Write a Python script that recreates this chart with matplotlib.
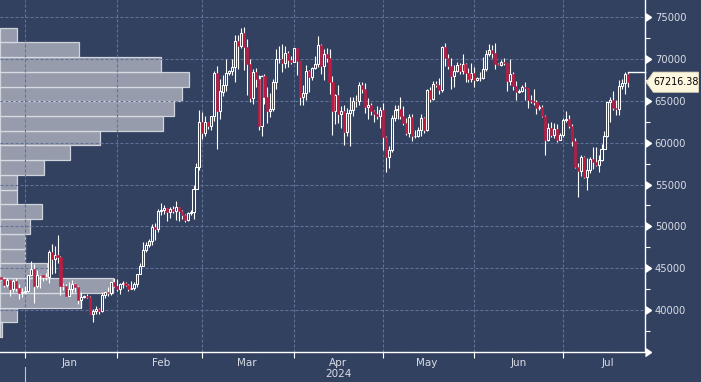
import numpy as np
import pandas as pd
import matplotlib
matplotlib.use("Agg")
import matplotlib.pyplot as plt
import matplotlib.dates as mdates
from matplotlib.patches import Polygon
from matplotlib.transforms import blended_transform_factory
from matplotlib.ticker import FixedLocator, NullFormatter

# ---------------- data ----------------
start_date = "2023-12-24"

opens = [
    43990, 43720, 43020, 43600, 42520, 43450, 42630, 42090, 42150,
    42280, 44190, 44960, 42850, 44190, 44160, 43970, 43930, 46970, 46110, 46630, 46370, 42850, 42840, 41730, 42510,
    43150, 42740, 41260, 41620, 41660, 41580, 39570, 39890, 40090, 39930, 41820, 42120, 42030, 43300, 42940,
    42580, 43080, 43190, 42990, 42580, 42660, 43080, 44320, 45300, 47150, 47770, 48290, 49960, 49700, 51800,
    51940, 52160, 51660, 52120, 51780, 52260, 51840, 51300, 50730, 51570, 51730, 54520, 57070, 62500,
    61170, 62430, 62030, 63140, 68340, 63800, 66100, 66940, 68300, 68500, 69020, 72120, 71480, 73080, 71400, 69400,
    65320, 68390, 67610, 61930, 67910, 65490, 63780, 64060, 67230, 69960, 69990, 69450, 70740, 69890, 69650,
    71330, 69700, 65460, 65980, 68510, 67840, 68900, 69360, 71630, 69140, 70590, 70060, 67200, 63820, 65740,
    63420, 63810, 61280, 63510, 63840, 64990, 64930, 66840, 66410, 64290, 64500, 63770, 63460, 63120, 63840,
    60640, 58250, 59120, 62890, 63890, 64030, 63160, 62330, 61190, 63050, 60790, 60790, 61450, 62900, 61550, 66270,
    65230, 67050, 66940, 66280, 71450, 70140, 69120, 67930, 68530, 69270, 68500, 69390, 68300, 67580, 68350,
    67490, 67710, 67750, 68800, 70560, 71080, 70760, 69340, 69310, 69650, 69500, 67320, 68240, 66750, 66010,
    66190, 66640, 66490, 65140, 64960, 64830, 64100, 64250, 63180, 60280, 61800, 60860, 61670, 60320, 60890,
    62680, 62850, 62030, 60200, 57060, 56660, 58230, 55860, 56700, 58040, 57720, 57340, 57900, 59230, 60790,
    64870, 65100, 64100, 63970, 66710, 67160, 68170,
]
highs = [
    44000, 43950, 43800, 43610, 43680, 43790, 43120, 42610, 42900,
    44180, 45900, 45500, 44770, 44340, 44230, 44490, 47200, 47900, 47690, 48970, 46500, 43230, 43060, 43330, 43550,
    43190, 42920, 42130, 41850, 41870, 41690, 40130, 40540, 40300, 42210, 42200, 42800, 43310, 43840, 43720,
    43280, 43480, 43380, 43120, 43490, 43350, 44340, 45580, 48150, 48170, 48540, 50280, 50360, 52040, 52820,
    52570, 52160, 52360, 52490, 52990, 52370, 52000, 51500, 51680, 51950, 54910, 57540, 63910, 63680,
    63120, 62430, 63230, 68540, 69170, 67640, 68060, 69990, 68670, 69940, 72800, 72830, 73640, 73750, 72360, 70020,
    68850, 68920, 68110, 68100, 68200, 66630, 65950, 67620, 71150, 71530, 71730, 71550, 70910, 70300, 71340,
    71340, 69700, 66880, 69290, 68680, 69000, 70300, 72720, 71740, 71170, 71260, 71230, 67930, 65820, 66870,
    64360, 64470, 64100, 65480, 65420, 65700, 67230, 67200, 67080, 65290, 64790, 63900, 64340, 64210, 64700,
    60780, 59600, 63320, 64490, 64500, 65450, 64390, 62990, 63400, 63410, 61450, 61820, 63420, 63100, 66450, 66700,
    67400, 67400, 67680, 71500, 71950, 70620, 70080, 69220, 69570, 69490, 70600, 69540, 68880, 69480, 69020,
    67860, 68430, 70230, 71040, 71740, 71600, 71950, 69560, 69860, 70150, 69560, 69990, 68440, 67300, 66400,
    66940, 67200, 66490, 65700, 66450, 65050, 64510, 64520, 63350, 62300, 62470, 62300, 62170, 61120, 62890,
    63800, 63250, 62270, 60500, 57530, 58480, 58400, 58200, 58280, 59430, 59470, 58490, 59850, 61420, 64900,
    65390, 66110, 65080, 67420, 67610, 68380, 68480,
]
lows = [
    43540, 42760, 42740, 41680, 42110, 42320, 41300, 41540, 41970,
    42170, 44150, 40810, 42630, 42600, 43430, 43580, 43230, 44330, 44470, 45650, 41750, 42440, 41720, 41720, 42050,
    42210, 40680, 40300, 41450, 41500, 39500, 38540, 39500, 39550, 39830, 41400, 41680, 41820, 42710, 42310,
    41880, 42600, 42890, 42280, 42500, 42450, 42790, 44310, 45250, 46900, 47500, 47720, 48370, 49300, 51320,
    51420, 50670, 51010, 51570, 50820, 50630, 50930, 50560, 50590, 51310, 50900, 54470, 56740, 60400,
    60840, 61660, 61470, 62530, 59220, 62850, 65550, 66130, 68040, 68130, 67190, 68780, 71330, 68690, 65630, 64900,
    64580, 66640, 61560, 60800, 64590, 62330, 63090, 63830, 66400, 69510, 68380, 68920, 69080, 69330, 69570,
    68110, 64540, 64540, 65090, 66020, 67510, 68810, 69060, 68240, 67520, 69570, 65750, 60920, 62210, 62330,
    61770, 59770, 60830, 59650, 63200, 64280, 64550, 65880, 63590, 62790, 63330, 62420, 62820, 61790, 59120,
    56550, 56940, 58850, 62600, 62830, 62810, 62100, 60890, 60690, 60210, 60500, 60630, 60770, 61150, 61360, 64850,
    65140, 66650, 65860, 66080, 69180, 68850, 66350, 66620, 68420, 68200, 68240, 67200, 67180, 67240, 66700,
    67390, 67350, 67600, 68550, 70380, 70120, 68750, 69210, 69130, 69240, 66110, 66910, 66300, 65100, 65870,
    66040, 65070, 64100, 64700, 64550, 63400, 63950, 63100, 58470, 60250, 60700, 60600, 60030, 60300, 60650,
    62480, 61800, 59600, 56950, 53520, 56040, 55800, 54300, 56330, 56900, 57160, 56540, 57780, 59220, 60680,
    62480, 63920, 63260, 63320, 66440, 65850, 66600,
]
closes = [
    43720, 43020, 43610, 42520, 43440, 42630, 42100, 42160, 42270,
    44180, 44960, 42850, 44180, 44160, 43970, 43930, 46970, 46110, 46630, 46370, 42850, 42840, 41730, 42510, 43150,
    42740, 41260, 41620, 41660, 41580, 39570, 39890, 40090, 39930, 41820, 42120, 42030, 43300, 42940, 42580,
    43080, 43190, 42990, 42580, 42660, 43080, 44320, 45300, 47150, 47770, 48290, 49960, 49700, 51800, 51940,
    52160, 51660, 52120, 51780, 52260, 51840, 51300, 50730, 51570, 51730, 54520, 57090, 62500, 61200,
    62440, 62030, 63170, 68330, 63800, 66110, 66930, 68300, 68500, 69020, 72120, 71480, 73080, 71400, 69400, 65320,
    68390, 67610, 61930, 67910, 65490, 63780, 64060, 67230, 69960, 69990, 69450, 70740, 69890, 69650, 71330,
    69700, 65460, 65980, 68510, 67840, 68900, 69360, 71630, 69140, 70590, 70060, 67200, 63820, 65740, 63420,
    63810, 61280, 63510, 63840, 64990, 64930, 66840, 66410, 64290, 64500, 63770, 63460, 63120, 63840, 60640,
    58250, 59120, 62890, 63890, 64030, 63160, 62330, 61190, 63050, 60790, 60790, 61450, 62900, 61550, 66270, 65230,
    67050, 66940, 66280, 71450, 70140, 69120, 67930, 68530, 69270, 68500, 69390, 68300, 67580, 68350, 67490,
    67710, 67750, 68800, 70560, 71080, 70760, 69340, 69310, 69650, 69500, 67320, 68240, 66750, 66010, 66190,
    66640, 66490, 65140, 64960, 64830, 64100, 64250, 63180, 60280, 61800, 60860, 61670, 60320, 60890, 62680,
    62850, 62030, 60200, 57060, 56660, 58230, 55860, 56700, 58040, 57720, 57340, 57900, 59230, 60790, 64870,
    65100, 64100, 63970, 66710, 67160, 68170, 67216.38,
]

# volume-at-price profile (bottom bin upward)
profile_low = [36780, 38540, 40300, 42060, 43820, 45580, 47340, 49100, 50860, 52620, 54380,
               56140, 57900, 59660, 61420, 63180, 64940, 66700, 68460, 70220, 71980]
profile_step = 1760
profile_vol = [1, 9, 43, 60, 25, 13, 13, 16, 22, 9, 9, 23, 37, 53, 86, 92, 96, 100, 85, 42, 9]

y_ticks = [35000, 40000, 45000, 50000, 55000, 60000, 65000, 70000, 75000]
y_labels = ["", "40000", "45000", "50000", "55000", "60000", "65000", "70000", "75000"]
y_minor = [37500, 42500, 47500, 52500, 57500, 62500, 67500, 72500]
last_label = "67216.38"
year_label = "2024"

# ---------------- style ----------------
BG = "#334160"
GRID = "#61719a"
RED = "#bf1a40"
TXT = "#d8dce4"
plt.rcParams["font.family"] = ["DejaVu Sans"]

dates = pd.date_range(start_date, periods=len(closes), freq="D")
x = mdates.date2num(dates)
o = np.array(opens, float); h = np.array(highs, float)
l = np.array(lows, float); c = np.array(closes, float)

fig = plt.figure(figsize=(7.01, 3.82), dpi=100)
fig.patch.set_facecolor(BG)
rect = [0, 30 / 382, 645 / 701, 352 / 382]
ymin, ymax = 35000, 77030

# profile axes (underneath)
axp = fig.add_axes(rect, zorder=1)
axp.set_facecolor(BG)
axp.barh(profile_low, profile_vol, height=profile_step, align="edge",
         color="#a0a5b3", edgecolor="#dadde5", linewidth=0.9, alpha=0.92)
axp.set_xlim(0, 341)
axp.set_ylim(ymin, ymax)
axp.axis("off")

# main axes
ax = fig.add_axes(rect, zorder=2)
ax.set_facecolor("none")
ax.set_ylim(ymin, ymax)
xl = mdates.date2num(pd.Timestamp("2023-12-23 13:00"))
xr = mdates.date2num(pd.Timestamp("2024-07-28 17:00"))
ax.set_xlim(xl, xr)

up = c >= o
ax.vlines(x, l, h, color="white", linewidth=0.8, zorder=3)
w = 0.7
ax.bar(x[up], (c - o)[up], bottom=o[up], width=w, facecolor=BG,
       edgecolor="white", linewidth=0.75, zorder=4)
ax.bar(x[~up], (o - c)[~up], bottom=c[~up], width=w, facecolor=RED,
       edgecolor=RED, linewidth=0.4, zorder=4)

# last-price line
ax.plot([x[-1], xr], [h[-1], h[-1]], color="white", linewidth=1.0, zorder=5, clip_on=False)

# grid
ax.xaxis.set_major_locator(mdates.MonthLocator())
ax.xaxis.set_major_formatter(NullFormatter())
ax.xaxis.set_minor_locator(mdates.MonthLocator(bymonthday=16))
ax.xaxis.set_minor_formatter(mdates.DateFormatter("%b"))
ax.yaxis.set_major_locator(FixedLocator(y_ticks))
ax.set_yticklabels(y_labels)
ax.yaxis.set_minor_locator(FixedLocator(y_minor))
ax.grid(True, which="major", color=GRID, linestyle=(0, (2.7, 1.8)), linewidth=0.8, zorder=0)

ax.yaxis.tick_right()
for s in ["top", "left"]:
    ax.spines[s].set_visible(False)
for s in ["bottom", "right"]:
    ax.spines[s].set_color("white")
    ax.spines[s].set_linewidth(1.0)

ax.tick_params(axis="x", which="major", length=4, width=0.8, color="white", direction="out")
ax.tick_params(axis="x", which="minor", length=0, pad=4, labelsize=7.5, labelcolor=TXT)
ax.tick_params(axis="y", which="major", length=0, pad=7, labelsize=7.2, labelcolor=TXT)
ax.tick_params(axis="y", which="minor", length=3.5, width=0.8, color="white", direction="out")

# triangular major tick markers on the right spine
trans_y = blended_transform_factory(ax.transAxes, ax.transData)
ax.plot([1.0] * len(y_ticks), y_ticks, linestyle="none", marker=9, markersize=6,
        color="white", transform=trans_y, clip_on=False, zorder=6)

# year label and separator
trans_x = blended_transform_factory(ax.transData, ax.transAxes)
ax.text(mdates.date2num(pd.Timestamp("2024-04-16")), -0.063, year_label, transform=trans_x,
        ha="center", va="center", fontsize=7.5, color=TXT, clip_on=False)
jan1 = mdates.date2num(pd.Timestamp("2024-01-01"))
ax.plot([jan1, jan1], [-0.043, -0.09], transform=trans_x, color="#c0c4cc",
        linewidth=0.8, clip_on=False)

# last price tag
cy = c[-1]
dh = 1200
tag = Polygon([(1.002, cy), (1.013, cy + dh), (1.083, cy + dh), (1.083, cy - dh), (1.013, cy - dh)],
              closed=True, transform=trans_y, facecolor="#fdf7e0", edgecolor="#e8dfc0",
              linewidth=0.6, clip_on=False, zorder=7)
ax.add_patch(tag)
ax.text(1.048, cy, last_label, transform=trans_y, ha="center", va="center",
        fontsize=6.9, color="black", clip_on=False, zorder=8)

fig.savefig("out.png", dpi=100, facecolor=BG)
